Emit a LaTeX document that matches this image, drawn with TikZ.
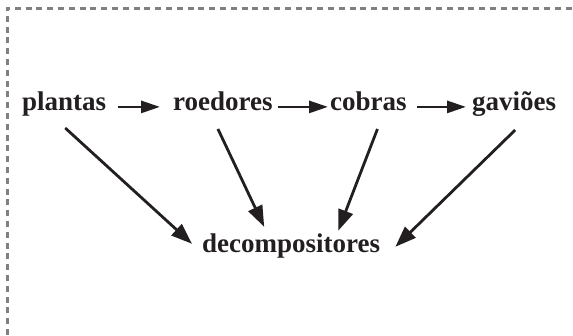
\documentclass[tikz,border=0pt]{standalone}
\usepackage{fontspec}
\setmainfont{Liberation Serif}
\usetikzlibrary{arrows.meta,calc}
\definecolor{ink}{HTML}{231F20}
\begin{document}
\begin{tikzpicture}[x=1pt,y=-1pt,
  word/.style={inner sep=0pt, anchor=base west, text height=0.8em, text depth=0.18em,
    font=\fontsize{27}{32}\selectfont\bfseries, text=ink},
  chain/.style={line width=2.8pt, draw=ink, -{Triangle[length=19pt,width=12pt]}},
  decay/.style={line width=2.8pt, draw=ink, -{Triangle[length=21pt,width=15pt]}},
  frame/.style={draw=black!50, line width=3pt, dash pattern=on 6pt off 4.8pt}]
  \useasboundingbox (0,0) rectangle (573,335);
  % dashed frame (top and left edges)
  \draw[frame] (7,335) -- (7,8) -- (573,8);
  % food chain
  \node[word] (plantas)   at (22,110)  {plantas};
  \node[word] (roedores)  at (173,110) {roedores};
  \node[word] (cobras)    at (330,110) {cobras};
  \node[word] (gavioes)   at (472,110) {gaviões};
  \node[word] (decomp)    at (202,252) {decompositores};
  \draw[chain, shorten <=12pt, shorten >=13pt] (plantas.east) -- (roedores.west);
  \draw[chain, shorten <=5pt, shorten >=2pt] (roedores.east) -- (cobras.west);
  \draw[chain, shorten <=10pt, shorten >=6pt] (cobras.east) -- (gavioes.west);
  % everything ends with the decomposers
  \draw[decay] ($(plantas.south)+(1,16)$) -- ($(decomp.north west)+(-10,0)$);
  \draw[decay] ($(roedores.south)+(-5,17)$) -- ($(decomp.north)+(-27,-17)$);
  \draw[decay] ($(cobras.south)+(9,17)$) -- ($(decomp.north)+(47,-13)$);
  \draw[decay] ($(gavioes.south)+(1,18)$) -- ($(decomp.north east)+(15,3)$);
\end{tikzpicture}
\end{document}
